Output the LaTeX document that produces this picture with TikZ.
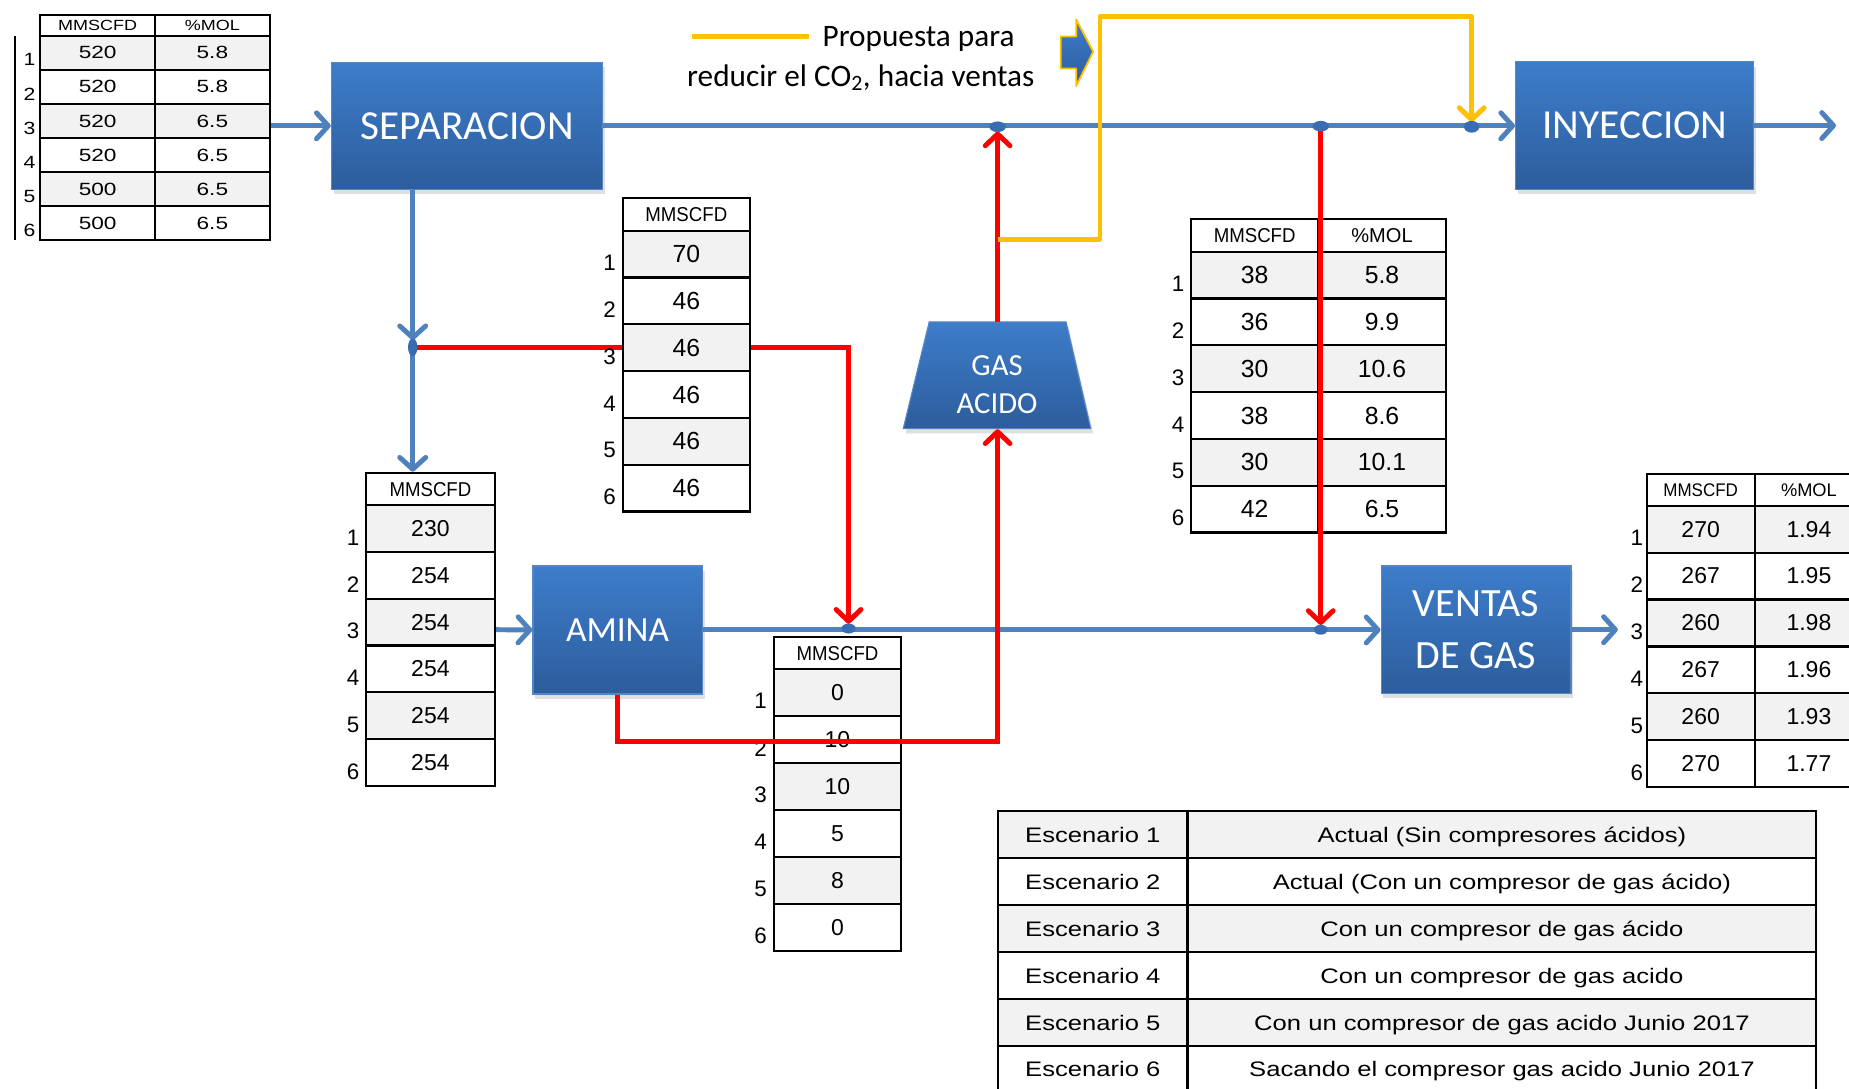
\documentclass[tikz,border=0pt]{standalone}
\usepackage{fontspec}
\usepackage{graphicx}
\usetikzlibrary{arrows.meta,shadows,shapes.geometric,calc}
\newfontfamily\arialf{Liberation Sans}
\newfontfamily\carlito{Carlito}
\definecolor{lineblue}{RGB}{79,129,189}
\definecolor{dotblue}{RGB}{58,108,178}
\definecolor{boxtop}{RGB}{61,125,202}
\definecolor{boxbot}{RGB}{45,93,156}
\definecolor{boxedge}{RGB}{84,133,196}
\definecolor{rowgray}{RGB}{242,242,242}
\definecolor{flowred}{RGB}{255,0,0}
\definecolor{flowyellow}{RGB}{255,192,0}
\newcommand\midhead{\arialf\fontsize{17}{17}\selectfont}
\newcommand\smallhead{\arialf\fontsize{15.5}{15.5}\selectfont}
\newcommand\valbig{\arialf\fontsize{21}{21}\selectfont}
\newcommand\valmid{\arialf\fontsize{19.5}{19.5}\selectfont}
\newcommand\tAhead[1]{\scalebox{1.22}[1]{\arialf\fontsize{12.5}{12.5}\selectfont #1}}
\newcommand\tAval[1]{\scalebox{1.28}[1]{\arialf\fontsize{15}{15}\selectfont #1}}
\newcommand\tAnum[1]{\scalebox{1.2}[1]{\arialf\fontsize{15}{15}\selectfont #1}}
\newcommand\scen[1]{\scalebox{1.22}[1]{\arialf\fontsize{17.8}{17.8}\selectfont #1}}
\tikzset{
 unit/.style={rectangle, top color=boxtop, bottom color=boxbot, draw=boxedge, line width=1pt,
   text=white, inner sep=0pt, align=center,
   drop shadow={shadow xshift=2pt, shadow yshift=-4pt, opacity=0.25}},
 gasshape/.style={top color=boxtop, bottom color=boxbot, draw=boxedge, line width=1pt,
   drop shadow={shadow xshift=2pt, shadow yshift=-4pt, opacity=0.25}},
 bflow/.style={draw=lineblue, line width=4.2pt, -{Straight Barb[length=10pt,width=22pt,round]}},
 rflow/.style={draw=flowred, line width=4.2pt, -{Straight Barb[length=10pt,width=21pt,round]}},
 yflow/.style={draw=flowyellow, line width=4.2pt, line join=round, -{Straight Barb[length=10pt,width=21pt,round]}},
 jdot/.style={ellipse, fill=dotblue, inner sep=0pt},
 cell/.style={rectangle, draw=black, line width=1.8pt, inner sep=0pt, anchor=center},
 scell/.style={cell, text height=12.8pt, text depth=0pt},
 numlab/.style={inner sep=0pt, font=\arialf\fontsize{19}{19}\selectfont},
}
\begin{document}
\begin{tikzpicture}[x=1pt,y=-1pt]
\useasboundingbox (0,0) rectangle (1568,923);
\fill[white] (0,0) rectangle (1568,923);

% ---------- process units
\node[unit, minimum width=230pt, minimum height=108pt, font=\carlito\fontsize{35}{35}\selectfont] (sep) at (396,106.7) {SEPARACION};
\node[unit, minimum width=202pt, minimum height=108pt, font=\carlito\fontsize{35}{35}\selectfont] (iny) at (1386.3,106.5) {INYECCION};
\node[unit, minimum width=143.5pt, minimum height=108.5pt, font=\carlito\fontsize{30}{30}\selectfont] (amina) at (523.7,534.2) {AMINA};
\node[unit, minimum width=161pt, minimum height=108pt, font=\carlito\fontsize{34}{44}\selectfont] (ventas) at (1251.7,534) {VENTAS\\DE GAS};
\shade[gasshape] (788,273) -- (904,273) -- (925,363.5) -- (766,363.5) -- cycle;
\node[font=\carlito\fontsize{26}{32.5}\selectfont, text=white, align=center, inner sep=0pt] (gas) at (845.5,326) {GAS\\ACIDO};

% ---------- coordinates
\coordinate (inSep) at (229,106.7);
\coordinate (outIny) at (1557,106.5);
\coordinate (d1) at (846,107.5);
\coordinate (d2) at (1120,107);
\coordinate (d3) at (1248,107.5);
\coordinate (j1) at (350,294.5);
\coordinate (sepDown) at (350,161);
\coordinate (tCin) at (350,400);
\coordinate (tCout) at (420,534);
\coordinate (d4) at (719.6,533);
\coordinate (d5) at (1120,534);
\coordinate (outVen) at (1372,534);
\coordinate (gasTop) at (846,273);
\coordinate (gasBot) at (846,364);
\coordinate (yStart) at (846,203);
\coordinate (yCorner) at (932.8,203);
\coordinate (yTop) at (932.8,14);
\coordinate (legA) at (587,31);
\coordinate (legB) at (686,31);
\coordinate (brTop) at (12.4,30.3);
\coordinate (brBot) at (12.4,203.6);

% ---------- blue flows
\draw[bflow] (inSep) -- (sep.west);
\draw[bflow] (sep.east) -- (sep.east -| iny.west);
\draw[bflow] (iny.east) -- (outIny);
\draw[bflow, shorten >=6pt] (sepDown) -- (j1);
\draw[bflow] (j1) -- (tCin);
\draw[bflow] (tCout) -- (amina.west);
\draw[bflow] (amina.east) -- (amina.east -| ventas.west);
\draw[bflow] (ventas.east) -- (outVen);

% ---------- red flow behind table B
\draw[rflow, shorten >=4pt] (j1) -| (d4);

% ---------- table A (top left)
\draw[line width=1.7pt] (brTop) -- (brBot);
\node[cell, minimum width=97.3pt, minimum height=17.8pt] (tA-h1) at (82.85,21.4) {\tAhead{MMSCFD}};
\node[cell, minimum width=97.2pt, minimum height=17.8pt] (tA-h2) at (180.1,21.4) {\tAhead{\%MOL}};
\foreach \a/\b [count=\i] in {520/5.8,520/5.8,520/6.5,520/6.5,500/6.5,500/6.5}{
  \ifodd\i\relax\def\fc{rowgray}\else\def\fc{white}\fi
  \node[cell, fill=\fc, minimum width=97.3pt, minimum height=28.9pt] (tA-\i-1) at (82.85,{30.3+(\i-0.5)*28.9}) {\tAval{\a}};
  \node[cell, fill=\fc, minimum width=97.2pt, minimum height=28.9pt] (tA-\i-2) at (180.1,{30.3+(\i-0.5)*28.9}) {\tAval{\b}};
  \node[inner sep=0pt] (tA-n\i) at (25,{30.3+(\i-1)*28.9+20.5}) {\tAnum{\i}};
}

% ---------- table B (acid gas from separation)
\node[cell, minimum width=108pt, minimum height=27.6pt] (tB-h) at (582,181.8) {\midhead\scalebox{0.93}[1]{MMSCFD}};
\foreach \v [count=\i] in {70,46,46,46,46,46}{
  \ifodd\i\relax\def\fc{rowgray}\else\def\fc{white}\fi
  \node[cell, fill=\fc, minimum width=108pt, minimum height=39.7pt] (tB-\i) at (582,{195.6+(\i-0.5)*39.7}) {\valbig\v};
  \node[numlab] (tB-n\i) at (517,{195.6+(\i-1)*39.7+27.4}) {\i};
}

% ---------- table C (amine feed)
\node[cell, minimum width=108.9pt, minimum height=26.9pt] (tC-h) at (365,414.85) {\midhead\scalebox{0.93}[1]{MMSCFD}};
\foreach \v [count=\i] in {230,254,254,254,254,254}{
  \ifodd\i\relax\def\fc{rowgray}\else\def\fc{white}\fi
  \node[cell, fill=\fc, minimum width=108.9pt, minimum height=39.7pt] (tC-\i) at (365,{428.3+(\i-0.5)*39.7}) {\valmid\v};
  \node[numlab] (tC-n\i) at (299.5,{428.3+(\i-1)*39.7+27.4}) {\i};
}

% ---------- table D (amine acid gas)
\node[cell, minimum width=108.4pt, minimum height=26.8pt] (tD-h) at (710.2,553.9) {\midhead\scalebox{0.93}[1]{MMSCFD}};
\foreach \v [count=\i] in {0,10,10,5,8,0}{
  \ifodd\i\relax\def\fc{rowgray}\else\def\fc{white}\fi
  \node[cell, fill=\fc, minimum width=108.4pt, minimum height=39.8pt] (tD-\i) at (710.2,{567.3+(\i-0.5)*39.8}) {\valmid\v};
  \node[numlab] (tD-n\i) at (645,{567.3+(\i-1)*39.8+27.4}) {\i};
}

% ---------- table E (to sales)
\node[cell, minimum width=108pt, minimum height=27.4pt] (tE-h1) at (1064,199.7) {\midhead\scalebox{0.93}[1]{MMSCFD}};
\node[cell, minimum width=108pt, minimum height=27.4pt] (tE-h2) at (1172,199.7) {\midhead\%MOL};
\foreach \a/\b [count=\i] in {38/5.8,36/9.9,30/10.6,38/8.6,30/10.1,42/6.5}{
  \ifodd\i\relax\def\fc{rowgray}\else\def\fc{white}\fi
  \node[cell, fill=\fc, minimum width=108pt, minimum height=39.7pt] (tE-\i-1) at (1064,{213.4+(\i-0.5)*39.7}) {\valbig\a};
  \node[cell, fill=\fc, minimum width=108pt, minimum height=39.7pt] (tE-\i-2) at (1172,{213.4+(\i-0.5)*39.7}) {\valbig\b};
  \node[numlab] (tE-n\i) at (999,{213.4+(\i-1)*39.7+27.4}) {\i};
}

% ---------- table F (sales gas)
\node[cell, minimum width=91.6pt, minimum height=26.8pt] (tF-h1) at (1442.2,415.4) {\smallhead\scalebox{0.93}[1]{MMSCFD}};
\node[cell, minimum width=92pt, minimum height=26.8pt] (tF-h2) at (1534,415.4) {\smallhead\%MOL};
\foreach \a/\b [count=\i] in {270/1.94,267/1.95,260/1.98,267/1.96,260/1.93,270/1.77}{
  \ifodd\i\relax\def\fc{rowgray}\else\def\fc{white}\fi
  \node[cell, fill=\fc, minimum width=91.6pt, minimum height=39.8pt] (tF-\i-1) at (1442.2,{428.8+(\i-0.5)*39.8}) {\valmid\a};
  \node[cell, fill=\fc, minimum width=92pt, minimum height=39.8pt] (tF-\i-2) at (1534,{428.8+(\i-0.5)*39.8}) {\valmid\b};
  \node[numlab] (tF-n\i) at (1388,{428.8+(\i-1)*39.8+27.4}) {\i};
}

% ---------- table G (scenarios)
\foreach \d [count=\i] in {Actual (Sin compresores ácidos),Actual (Con un compresor de gas ácido),Con un compresor de gas ácido,Con un compresor de gas acido,Con un compresor de gas acido Junio 2017,Sacando el compresor gas acido Junio 2017}{
  \ifodd\i\relax\def\fc{rowgray}\else\def\fc{white}\fi
  \node[scell, fill=\fc, minimum width=160.5pt, minimum height=39.8pt] (tG-\i-1) at (926.75,{688+(\i-0.5)*39.8}) {\scen{Escenario \i}};
  \node[scell, fill=\fc, minimum width=533.3pt, minimum height=39.8pt] (tG-\i-2) at (1273.65,{688+(\i-0.5)*39.8}) {\scen{\smash{\d}}};
}

% ---------- red flows on top
\draw[rflow] (amina.south) -- ++(0,39.5) -| (gasBot);
\draw[rflow, shorten >=4pt] (gasTop) -- (d1);
\draw[rflow, shorten >=4pt] (d2) -- (d5);

% ---------- yellow proposal
\draw[yflow, shorten >=4pt] (yStart) -- (yCorner) -- (yTop) -| (d3);
\draw[draw=flowyellow, line width=4.2pt] (legA) -- (legB);
\node[anchor=base, inner sep=0pt, font=\carlito\fontsize{26.5}{26.5}\selectfont] (leg1) at (779,39.6) {Propuesta para};
\node[anchor=base, inner sep=0pt, font=\carlito\fontsize{26.5}{26.5}\selectfont] (leg2) at (730,73) {reducir el CO\textsubscript{2}, hacia ventas};
\shade[top color=boxtop, bottom color=boxbot, draw=flowyellow, line width=1.5pt, line join=round]
  (899.5,31) -- (912.6,31) -- (912.6,16.4) -- (927,43.8) -- (912.6,73) -- (912.6,58) -- (899.5,58) -- cycle;

% ---------- junction dots
\node[jdot, minimum width=14pt, minimum height=9pt] (dot1) at (d1) {};
\node[jdot, minimum width=14pt, minimum height=9pt] (dot2) at (d2) {};
\node[jdot, minimum width=13pt, minimum height=10pt] (dot3) at (d3) {};
\node[jdot, minimum width=8pt, minimum height=15pt] (dotj) at (j1) {};
\node[jdot, minimum width=12pt, minimum height=8.5pt] (dot4) at (d4) {};
\node[jdot, minimum width=11.5pt, minimum height=8.5pt] (dot5) at (d5) {};
\end{tikzpicture}
\end{document}
